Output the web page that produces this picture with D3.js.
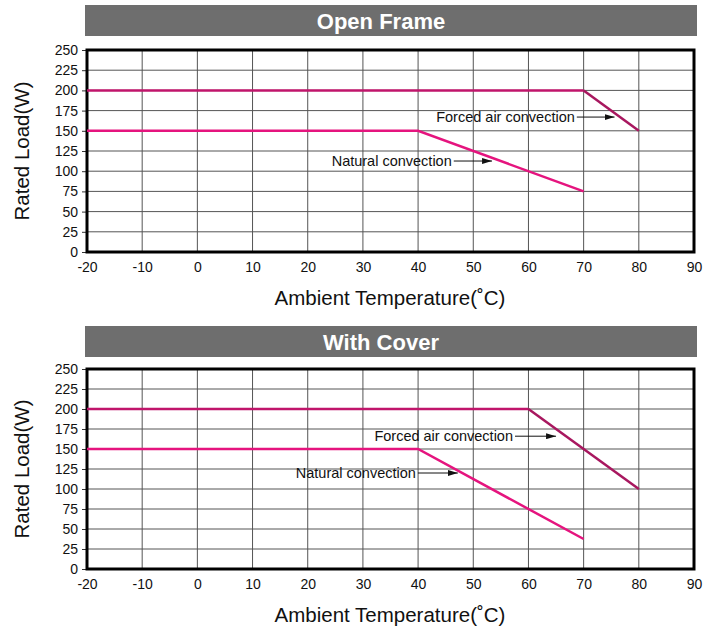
<!DOCTYPE html>
<html>
<head>
<meta charset="utf-8">
<script src="https://cdn.jsdelivr.net/npm/d3@7"></script>
<style>
  body { margin: 0; background: #fff; }
  text { font-family: "Liberation Sans", Arial, sans-serif; }
</style>
</head>
<body>
<div id="charts"></div>
<script>
// tick values
var xTicks = [-20, -10, 0, 10, 20, 30, 40, 50, 60, 70, 80, 90];
var yTicks = [0, 25, 50, 75, 100, 125, 150, 175, 200, 225, 250];

// Open Frame curves [temp, load]
var openForced = [[-20, 200], [70, 200], [80, 150]];
var openNatural = [[-20, 150], [40, 150], [70, 75]];
// With Cover curves
var coverForced = [[-20, 200], [60, 200], [80, 100]];
var coverNatural = [[-20, 150], [40, 150], [70, 37.5]];

// annotations: label, text end temp, arrow tip temp, load
var openNotes = [
    ['Forced air convection', 68.4, 75.6, 167],
    ['Natural convection', 46.1, 53.4, 112.6]
];
var coverNotes = [
    ['Forced air convection', 57.2, 65, 166],
    ['Natural convection', 39.6, 47.2, 120]
];

var svg = d3.select('#charts')
    .append('svg')
    .attr('width', 714)
    .attr('height', 628);

svg.append('defs').append('marker')
    .attr('id', 'arrow')
    .attr('viewBox', '0 0 10 6')
    .attr('refX', 10)
    .attr('refY', 3)
    .attr('markerWidth', 10)
    .attr('markerHeight', 6)
    .attr('markerUnits', 'userSpaceOnUse')
    .attr('orient', 'auto')
    .append('path')
    .attr('d', 'M0,0 L10,3 L0,6 Z')
    .attr('fill', '#111');

var forcedColor = '#a8175f';
var naturalColor = '#e5147e';

drawPanel(5, 50, 252, 'Open Frame', openForced, openNatural, openNotes);
drawPanel(326, 369, 569, 'With Cover', coverForced, coverNatural, coverNotes);

function drawPanel(barTop, plotTop, plotBottom, title, forced, natural, notes) {
    var left = 87, right = 694;

    var x = d3.scaleLinear().domain([-20, 90]).range([left, right]);
    var y = d3.scaleLinear().domain([0, 250]).range([plotBottom, plotTop]);

    var g = svg.append('g');

    // title bar
    g.append('rect')
        .attr('x', 85)
        .attr('y', barTop)
        .attr('width', 612)
        .attr('height', 31)
        .attr('fill', '#6e6e6e');
    g.append('text')
        .attr('x', 381)
        .attr('y', barTop + 24)
        .attr('text-anchor', 'middle')
        .attr('fill', '#fff')
        .style('font-size', '22px')
        .style('font-weight', 'bold')
        .text(title);

    // grid
    g.selectAll('.vgrid')
        .data(xTicks)
        .enter().append('line')
        .attr('x1', function(d) { return x(d); })
        .attr('x2', function(d) { return x(d); })
        .attr('y1', plotTop)
        .attr('y2', plotBottom)
        .attr('stroke', '#555')
        .attr('stroke-width', 1);
    g.selectAll('.hgrid')
        .data(yTicks)
        .enter().append('line')
        .attr('x1', left)
        .attr('x2', right)
        .attr('y1', function(d) { return y(d); })
        .attr('y2', function(d) { return y(d); })
        .attr('stroke', '#555')
        .attr('stroke-width', 1);

    // axes (plain hyphen for negatives, like the original)
    var fmt = function(d) { return String(d); };

    var yAxis = g.append('g')
        .attr('transform', 'translate(' + left + ',0)')
        .call(d3.axisLeft(y).tickValues(yTicks).tickFormat(fmt).tickSize(5).tickPadding(4));
    yAxis.select('.domain').remove();
    yAxis.selectAll('line').attr('stroke', '#333');
    yAxis.selectAll('text').style('font-size', '14px').attr('fill', '#111');

    var xAxis = g.append('g')
        .attr('transform', 'translate(0,' + plotBottom + ')')
        .call(d3.axisBottom(x).tickValues(xTicks).tickFormat(fmt).tickSize(0).tickPadding(10));
    xAxis.select('.domain').remove();
    xAxis.selectAll('text').style('font-size', '14px').attr('fill', '#111');

    // frame
    g.append('rect')
        .attr('x', left)
        .attr('y', plotTop)
        .attr('width', right - left)
        .attr('height', plotBottom - plotTop)
        .attr('fill', 'none')
        .attr('stroke', '#000')
        .attr('stroke-width', 3);

    // curves
    var line = d3.line()
        .x(function(d) { return x(d[0]); })
        .y(function(d) { return y(d[1]); });

    g.append('path')
        .datum(natural)
        .attr('d', line)
        .attr('fill', 'none')
        .attr('stroke', naturalColor)
        .attr('stroke-width', 2.5);
    g.append('path')
        .datum(forced.slice(0, 2))
        .attr('d', line)
        .attr('fill', 'none')
        .attr('stroke', '#c0156b')
        .attr('stroke-width', 2.5);
    g.append('path')
        .datum(forced.slice(1))
        .attr('d', line)
        .attr('fill', 'none')
        .attr('stroke', forcedColor)
        .attr('stroke-width', 2.5);

    // notes
    notes.forEach(function(n) {
        g.append('text')
            .attr('x', x(n[1]))
            .attr('y', y(n[3]) + 5)
            .attr('text-anchor', 'end')
            .attr('fill', '#111')
            .style('font-size', '14.5px')
            .text(n[0]);
        g.append('line')
            .attr('x1', x(n[1]) + 2)
            .attr('x2', x(n[2]))
            .attr('y1', y(n[3]))
            .attr('y2', y(n[3]))
            .attr('stroke', '#111')
            .attr('stroke-width', 1)
            .attr('marker-end', 'url(#arrow)');
    });

    // axis titles
    g.append('text')
        .attr('transform', 'translate(29,' + ((plotTop + plotBottom) / 2) + ') rotate(-90)')
        .attr('text-anchor', 'middle')
        .attr('fill', '#111')
        .style('font-size', '20.5px')
        .text('Rated Load(W)');
    g.append('text')
        .attr('x', 390)
        .attr('y', plotBottom + 53)
        .attr('text-anchor', 'middle')
        .attr('fill', '#111')
        .style('font-size', '20.5px')
        .text('Ambient Temperature(˚C)');
}
</script>
</body>
</html>
